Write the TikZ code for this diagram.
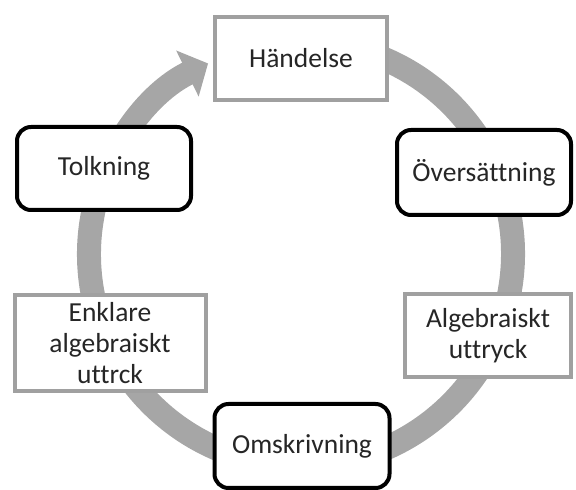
\documentclass[tikz,border=0pt]{standalone}
\usepackage{fontspec}
\setmainfont{Carlito}[Ligatures=NoCommon]
\usetikzlibrary{arrows.meta}
\definecolor{ringgray}{HTML}{A6A6A6}
\definecolor{boxgray}{HTML}{A0A0A0}
\begin{document}
\begin{tikzpicture}[x=1pt,y=1pt,
				every node/.style={font=\fontsize{27.5}{31}\selectfont,align=center,
					fill=white,text=black!85,inner sep=0pt,line width=4pt},
				plain/.style={draw=boxgray},
				bold/.style={draw=black,rounded corners=14pt}]
\useasboundingbox (0,0) rectangle (576,490);
\draw[ringgray,line width=24pt,-{Triangle[width=50pt,length=23pt]}]
	(301,236) ++(80:212) arc (80:-244:212);
\node[plain,minimum width=172,minimum height=83] (handelse) at (301,431.5) {Händelse};
\node[bold,minimum width=174,minimum height=85] (oversattning) at (484,317.5) {Översättning};
\node[plain,minimum width=166,minimum height=83] (uttryck) at (488,154.5) {Algebraiskt\\uttryck};
\node[bold,minimum width=175,minimum height=84] (omskrivning) at (302,44) {Omskrivning};
\node[plain,minimum width=191,minimum height=96] (enklare) at (110,147) {Enklare\\algebraiskt\\uttrck};
\node[bold,minimum width=174,minimum height=83] (tolkning) at (104,321.5) {Tolkning};
\end{tikzpicture}
\end{document}
